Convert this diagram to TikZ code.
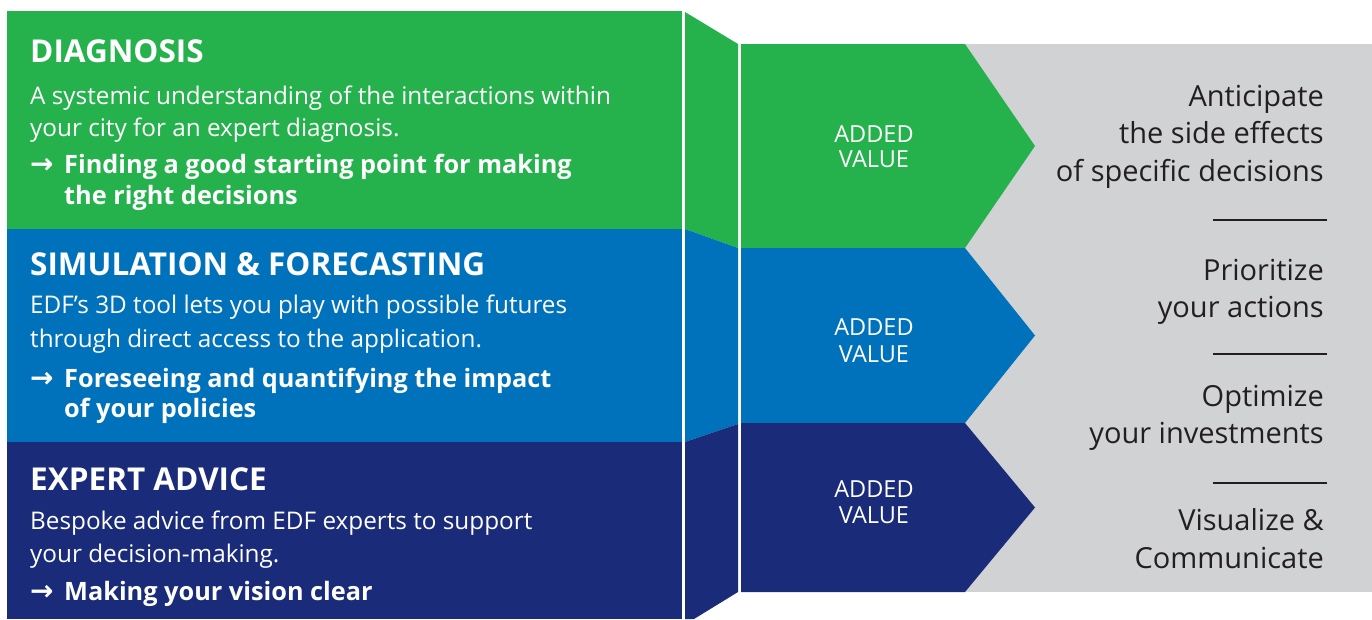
\documentclass[tikz,border=0pt]{standalone}
\usepackage{fontspec}
\setmainfont{Open Sans}
\newfontfamily\arrowfont{DejaVu Sans}

\definecolor{edfgreen}{RGB}{37,178,77}
\definecolor{edfblue}{RGB}{0,114,188}
\definecolor{edfnavy}{RGB}{25,43,121}
\definecolor{panelgray}{RGB}{209,210,212}
\definecolor{textgray}{RGB}{35,31,32}

\begin{document}
\begin{tikzpicture}[x=1pt,y=-1pt,
  panelhead/.style={anchor=base west, text=white, inner sep=0pt,
    font=\fontsize{31.5}{31.5}\selectfont\bfseries},
  paneltext/.style={anchor=base west, text=white, inner sep=0pt,
    font=\fontsize{24.3}{24.3}\selectfont},
  panelkey/.style={anchor=base west, text=white, inner sep=0pt,
    font=\fontsize{25.3}{25.3}\selectfont\bfseries},
  keyarrow/.style={anchor=base west, text=white, inner sep=0pt,
    font=\fontsize{28}{28}\arrowfont\bfseries},
  valuelabel/.style={anchor=base, text=white, inner sep=0pt,
    font=\fontsize{23.5}{23.5}\selectfont},
  benefit/.style={anchor=base east, text=textgray, inner sep=0pt,
    font=\fontsize{29}{29}\selectfont},
  rulebar/.style={draw=textgray, line width=2.5pt}
]
\useasboundingbox (0,0) rectangle (1372,619);

% left panels
\fill[edfgreen] (7,11) rectangle (682,229);
\fill[edfblue]  (7,229) rectangle (682,442);
\fill[edfnavy]  (7,442) rectangle (682,619);

% tapering joints
\fill[edfgreen] (685,12) -- (738,44) -- (738,248) -- (685,229) -- cycle;
\fill[edfblue]  (685,229) -- (738,248) -- (738,424) -- (685,442) -- cycle;
\fill[edfnavy]  (685,442) -- (738,424) -- (738,592) -- (694,619) -- (685,619) -- cycle;

% grey band with chevrons
\fill[panelgray] (741,44) rectangle (1372,592);
\fill[edfgreen] (741,44) -- (965,44) -- (1035,146) -- (965,248) -- (741,248) -- cycle;
\fill[edfblue]  (741,248) -- (965,248) -- (1035,335.5) -- (965,423) -- (741,423) -- cycle;
\fill[edfnavy]  (741,423) -- (965,423) -- (1035,507.5) -- (965,592) -- (741,592) -- cycle;

% DIAGNOSIS
\node[panelhead] (diagT) at (30,62) {DIAGNOSIS};
\node[paneltext] (diagA) at (30,104) {A systemic understanding of the interactions within};
\node[paneltext] (diagB) at (30,136) {your city for an expert diagnosis.};
\node[keyarrow]  (diagR) at (30,173) {→};
\node[panelkey]  (diagC) at (64,173) {Finding a good starting point for making};
\node[panelkey]  (diagD) at (64,204) {the right decisions};

% SIMULATION & FORECASTING
\node[panelhead] (simT) at (30,275) {SIMULATION \& FORECASTING};
\node[paneltext] (simA) at (30,313) {EDF’s 3D tool lets you play with possible futures};
\node[paneltext] (simB) at (30,347) {through direct access to the application.};
\node[keyarrow]  (simR) at (30,387) {→};
\node[panelkey]  (simC) at (64,387) {Foreseeing and quantifying the impact};
\node[panelkey]  (simD) at (64,417) {of your policies};

% EXPERT ADVICE
\node[panelhead] (expT) at (30,490) {EXPERT ADVICE};
\node[paneltext] (expA) at (30,529) {Bespoke advice from EDF experts to support};
\node[paneltext] (expB) at (30,562) {your decision-making.};
\node[keyarrow]  (expR) at (30,600) {→};
\node[panelkey]  (expC) at (64,600) {Making your vision clear};

% added value labels
\node[valuelabel] (av1a) at (874,142) {ADDED};
\node[valuelabel] (av1b) at (874,167) {VALUE};
\node[valuelabel] (av2a) at (874,335) {ADDED};
\node[valuelabel] (av2b) at (874,362) {VALUE};
\node[valuelabel] (av3a) at (874,497) {ADDED};
\node[valuelabel] (av3b) at (874,523) {VALUE};

% benefits
\node[benefit] (b1a) at (1324,106) {Anticipate};
\node[benefit] (b1b) at (1324,143) {the side effects};
\node[benefit] (b1c) at (1324,181) {of specific decisions};
\node[benefit] (b2a) at (1324,280) {Prioritize};
\node[benefit] (b2b) at (1324,317) {your actions};
\node[benefit] (b3a) at (1324,406) {Optimize};
\node[benefit] (b3b) at (1324,443) {your investments};
\node[benefit] (b4a) at (1324,530) {Visualize \&};
\node[benefit] (b4b) at (1324,568) {Communicate};

% separators
\coordinate (s1l) at (1213,220); \coordinate (s1r) at (1327,220);
\coordinate (s2l) at (1213,354); \coordinate (s2r) at (1327,354);
\coordinate (s3l) at (1213,483); \coordinate (s3r) at (1327,483);
\draw[rulebar] (s1l) -- (s1r);
\draw[rulebar] (s2l) -- (s2r);
\draw[rulebar] (s3l) -- (s3r);
\end{tikzpicture}
\end{document}
